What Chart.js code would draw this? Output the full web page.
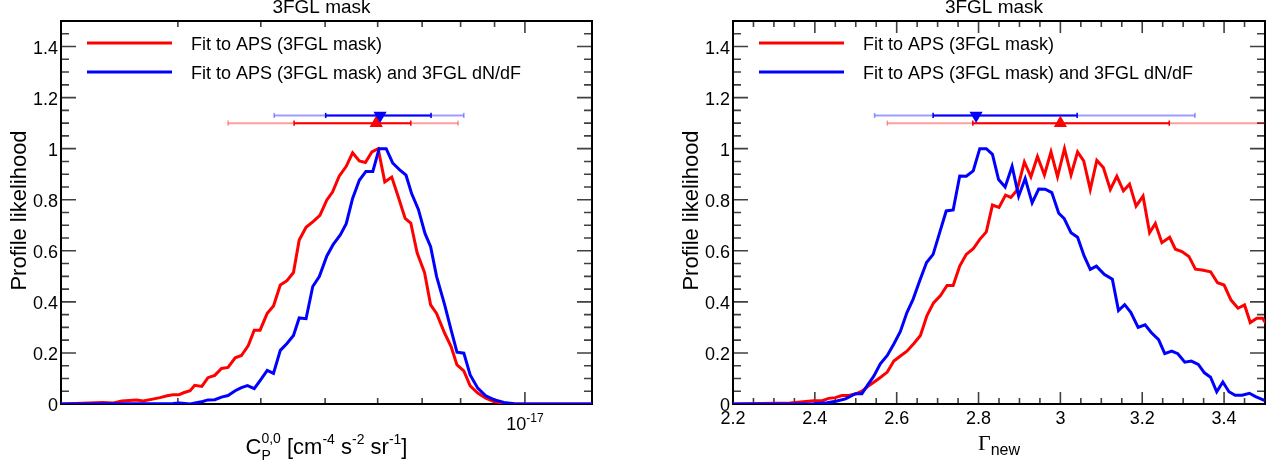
<!DOCTYPE html>
<html>
<head>
<meta charset="utf-8">
<script src="https://cdn.jsdelivr.net/npm/chart.js@4.4.1/dist/chart.umd.min.js"></script>
<style>
  body { margin: 0; background: #fff; }
  #wrap { position: relative; width: 1279px; height: 466px; overflow: hidden; }
  canvas { position: absolute; top: 0; }
</style>
</head>
<body>
<div id="wrap">
  <canvas id="left" width="640" height="466" style="left:0"></canvas>
  <canvas id="right" width="639" height="466" style="left:640px"></canvas>
</div>
<script>
// ---- left panel: C_P^{0,0}, x given in units of 1e-18 cm^-4 s^-2 sr^-1
const cpRedX = [2.00, 2.31, 2.40, 2.47, 2.60, 2.66, 2.76, 2.82, 2.89, 2.95, 3.01, 3.06, 3.13, 3.18, 3.26,
  3.33, 3.41, 3.49, 3.57, 3.66, 3.74, 3.83, 3.91, 3.99, 4.09, 4.18, 4.28, 4.38, 4.48, 4.57, 4.68, 4.80,
  4.91, 5.03, 5.13, 5.25, 5.38, 5.50, 5.63, 5.75, 5.88, 6.01, 6.15, 6.30, 6.44, 6.60, 6.73, 6.88, 7.06,
  7.21, 7.36, 7.57, 7.74, 7.90, 8.09, 8.27, 8.49, 8.73, 8.98, 9.30, 9.64, 12.62];
const cpRedY = [0, 0.006, 0.004, 0.012, 0.016, 0.012, 0.02, 0.025, 0.032, 0.036, 0.036, 0.044, 0.052, 0.073, 0.069,
  0.103, 0.112, 0.139, 0.143, 0.181, 0.19, 0.229, 0.289, 0.289, 0.355, 0.384, 0.466, 0.483, 0.515, 0.642, 0.692, 0.715,
  0.739, 0.799, 0.83, 0.892, 0.931, 0.984, 0.952, 0.946, 0.987, 1.0, 0.87, 0.889, 0.814, 0.727, 0.709, 0.592, 0.514,
  0.388, 0.355, 0.277, 0.225, 0.153, 0.13, 0.071, 0.043, 0.023, 0.01, 0.001, 0, 0];
const cpBlueX = [2.00, 2.95, 3.02, 3.13, 3.27, 3.33, 3.41, 3.49, 3.57, 3.66, 3.74, 3.82, 3.91, 3.99, 4.09,
  4.18, 4.28, 4.38, 4.48, 4.57, 4.68, 4.79, 4.90, 5.03, 5.14, 5.27, 5.38, 5.50, 5.63, 5.76, 5.90, 6.03,
  6.18, 6.32, 6.47, 6.62, 6.75, 6.91, 7.07, 7.21, 7.36, 7.57, 7.74, 7.90, 8.09, 8.27, 8.49, 8.73, 8.98,
  9.30, 9.64, 10.5, 12.62];
const cpBlueY = [0, 0.002, 0.004, 0, 0.01, 0.016, 0.017, 0.027, 0.033, 0.052, 0.064, 0.072, 0.06, 0.092, 0.132,
  0.12, 0.21, 0.237, 0.268, 0.337, 0.334, 0.46, 0.499, 0.58, 0.624, 0.662, 0.706, 0.805, 0.876, 0.911, 0.911, 1.0,
  1.0, 0.944, 0.918, 0.896, 0.824, 0.762, 0.668, 0.616, 0.5, 0.388, 0.29, 0.203, 0.199, 0.114, 0.062, 0.032, 0.017,
  0.006, 0.001, 0, 0];
// best fit and 68% / 95% intervals (1e-18 units)
const cpRedBest = 5.97, cpRedInner = [4.49, 6.73], cpRedOuter = [3.57, 7.93];
const cpBlueBest = 6.05, cpBlueInner = [5.01, 7.22], cpBlueOuter = [4.19, 8.09];

// ---- right panel: Gamma_new
const gRedX = [2.20, 2.34, 2.397, 2.418, 2.434, 2.45, 2.466, 2.483, 2.499, 2.515, 2.528, 2.544, 2.56, 2.577, 2.593,
  2.609, 2.625, 2.642, 2.658, 2.674, 2.69, 2.707, 2.723, 2.738, 2.754, 2.77, 2.787, 2.803, 2.819, 2.834, 2.85,
  2.866, 2.879, 2.894, 2.912, 2.928, 2.944, 2.961, 2.977, 2.993, 3.01, 3.026, 3.042, 3.057, 3.073, 3.089, 3.105,
  3.122, 3.138, 3.154, 3.169, 3.185, 3.202, 3.218, 3.232, 3.248, 3.267, 3.281, 3.297, 3.314, 3.33, 3.346, 3.367,
  3.384, 3.4, 3.417, 3.434, 3.45, 3.464, 3.48, 3.494, 3.502];
const gRedY = [0, 0.004, 0.013, 0.013, 0.022, 0.025, 0.033, 0.033, 0.039, 0.05, 0.067, 0.085, 0.104, 0.125, 0.168,
  0.188, 0.207, 0.237, 0.268, 0.346, 0.396, 0.425, 0.464, 0.464, 0.54, 0.586, 0.608, 0.645, 0.674, 0.779, 0.77,
  0.818, 0.809, 0.837, 0.948, 0.89, 0.969, 0.897, 0.987, 0.89, 1.0, 0.897, 0.987, 0.952, 0.84, 0.954, 0.926,
  0.84, 0.892, 0.835, 0.861, 0.775, 0.814, 0.671, 0.707, 0.632, 0.653, 0.606, 0.597, 0.578, 0.528, 0.525, 0.518,
  0.475, 0.466, 0.407, 0.375, 0.388, 0.319, 0.336, 0.336, 0.316];
const gBlueX = [2.20, 2.397, 2.43, 2.454, 2.475, 2.499, 2.515, 2.528, 2.544, 2.56, 2.577, 2.593, 2.609, 2.625, 2.64,
  2.656, 2.673, 2.689, 2.705, 2.721, 2.738, 2.754, 2.77, 2.787, 2.803, 2.819, 2.834, 2.849, 2.865, 2.882, 2.898,
  2.914, 2.931, 2.947, 2.963, 2.979, 2.996, 3.009, 3.026, 3.042, 3.058, 3.073, 3.088, 3.107, 3.127, 3.142, 3.157,
  3.172, 3.19, 3.207, 3.222, 3.24, 3.255, 3.272, 3.287, 3.304, 3.32, 3.337, 3.352, 3.367, 3.382, 3.397, 3.412,
  3.427, 3.444, 3.462, 3.477, 3.502];
const gBlueY = [0, 0.001, 0.005, 0.012, 0.02, 0.04, 0.04, 0.072, 0.109, 0.157, 0.19, 0.235, 0.284, 0.358, 0.41,
  0.482, 0.554, 0.586, 0.671, 0.756, 0.76, 0.893, 0.892, 0.913, 1.0, 1.0, 0.978, 0.879, 0.85, 0.931, 0.814,
  0.883, 0.788, 0.842, 0.841, 0.828, 0.747, 0.727, 0.671, 0.653, 0.58, 0.527, 0.54, 0.508, 0.489, 0.366, 0.389,
  0.359, 0.3, 0.31, 0.28, 0.252, 0.197, 0.207, 0.197, 0.164, 0.168, 0.155, 0.122, 0.105, 0.048, 0.086, 0.048,
  0.034, 0.034, 0.042, 0.029, 0.012];
const gRedBest = 3.0, gRedInner = [2.786, 3.266], gRedOuter = [2.577, 3.6];
const gBlueBest = 2.794, gBlueInner = [2.689, 3.041], gBlueOuter = [2.546, 3.329];

// ---- axes / labels
const yTickValues = [0, 0.2, 0.4, 0.6, 0.8, 1, 1.2, 1.4];
const yTickLabels = ['0', '0.2', '0.4', '0.6', '0.8', '1', '1.2', '1.4'];
const gTickValues = [2.2, 2.4, 2.6, 2.8, 3.0, 3.2, 3.4];
const gTickLabels = ['2.2', '2.4', '2.6', '2.8', '3', '3.2', '3.4'];
const cpMinorTicks = [3e-18, 4e-18, 5e-18, 6e-18, 7e-18, 8e-18, 9e-18];
const cpMajorTicks = [1e-17];
const legendLabels = ['Fit to APS (3FGL mask)', 'Fit to APS (3FGL mask) and 3FGL dN/dF'];
const panelTitle = '3FGL mask';

const RED = '#ff0000', BLUE = '#0000ff';
const LRED = 'rgba(255,0,0,0.38)', LBLUE = 'rgba(0,0,255,0.38)';
const SANS = '"Liberation Sans", Arial, Helvetica, sans-serif';
const SERIF = '"Liberation Serif", "Times New Roman", serif';

function pts(xs, ys, k) {
  return xs.map((x, i) => ({ x: x * k, y: ys[i] }));
}

function partWidth(ctx, p) {
  if (p.stack) return Math.max(...p.stack.map(q => partWidth(ctx, q)));
  ctx.font = p.size + 'px ' + (p.family || SANS);
  return ctx.measureText(p.t).width;
}

function drawRich(ctx, parts, cx, base) {
  const w = parts.reduce((s, p) => s + partWidth(ctx, p), 0);
  let x = cx - w / 2;
  ctx.textAlign = 'left';
  ctx.textBaseline = 'alphabetic';
  for (const p of parts) {
    for (const q of (p.stack || [p])) {
      ctx.font = q.size + 'px ' + (q.family || SANS);
      ctx.fillText(q.t, x, base + (q.dy || 0));
    }
    x += partWidth(ctx, p);
  }
}

function rootFrame(cfg) {
  return {
    id: 'rootFrame',
    beforeDatasetsDraw(chart) {
      const { ctx, chartArea: a, scales: { x, y } } = chart;
      ctx.save();
      ctx.strokeStyle = '#404040';
      ctx.lineWidth = 1.6;
      ctx.beginPath();
      for (let i = 0; i <= 30; i++) {
        const py = y.getPixelForValue(i * 0.05);
        const len = i % 4 === 0 ? 15 : 8;
        ctx.moveTo(a.left, py); ctx.lineTo(a.left + len, py);
        ctx.moveTo(a.right, py); ctx.lineTo(a.right - len, py);
      }
      for (const t of cfg.xTicks) {
        const px = x.getPixelForValue(t.v);
        const len = t.major ? 12 : 6;
        ctx.moveTo(px, a.bottom); ctx.lineTo(px, a.bottom - len);
        ctx.moveTo(px, a.top); ctx.lineTo(px, a.top + len);
      }
      ctx.stroke();
      ctx.strokeStyle = '#000';
      ctx.lineWidth = 2;
      ctx.strokeRect(a.left, a.top, a.right - a.left, a.bottom - a.top);
      ctx.restore();
    },
    afterDraw(chart) {
      const { ctx, chartArea: a, scales: { x, y } } = chart;
      ctx.save();
      ctx.fillStyle = '#000';
      // title
      ctx.font = '19px ' + SANS;
      ctx.textAlign = 'center';
      ctx.textBaseline = 'alphabetic';
      ctx.fillText(panelTitle, (a.left + a.right) / 2 - 5, 13);
      // y tick labels
      ctx.font = '18px ' + SANS;
      ctx.textAlign = 'right';
      yTickValues.forEach((v, i) => {
        ctx.fillText(yTickLabels[i], a.left - 3, y.getPixelForValue(v) + 7);
      });
      // y title
      ctx.save();
      ctx.translate(a.left - 35.5, 210.5);
      ctx.rotate(-Math.PI / 2);
      ctx.font = '22px ' + SANS;
      ctx.textAlign = 'center';
      ctx.fillText('Profile likelihood', 0, 0);
      ctx.restore();
      // x tick labels
      for (const l of cfg.xLabels) {
        drawRich(ctx, l.parts, x.getPixelForValue(l.v), cfg.xLabelBase);
      }
      // x title
      drawRich(ctx, cfg.xTitle, (a.left + a.right) / 2 + cfg.xTitleShift, cfg.xTitleBase);
      // legend
      const colors = [RED, BLUE];
      [22, 51].forEach((dy, i) => {
        const ly = a.top + dy;
        ctx.strokeStyle = colors[i];
        ctx.lineWidth = 3.2;
        ctx.beginPath();
        ctx.moveTo(a.left + 26, ly);
        ctx.lineTo(a.left + 111, ly);
        ctx.stroke();
        ctx.font = '18px ' + SANS;
        ctx.textAlign = 'left';
        ctx.fillStyle = '#000';
        ctx.fillText(legendLabels[i], a.left + 130, ly + 7);
      });
      ctx.restore();
    }
  };
}

function bar(lo, hi, yv, color, k) {
  return {
    data: [{ x: lo * k, y: yv }, { x: hi * k, y: yv }],
    borderColor: color, borderWidth: 2,
    pointStyle: 'line', pointRotation: 90, pointRadius: 2.6,
    pointBorderColor: color, pointBorderWidth: 1.6,
    clip: 0
  };
}

function marker(best, yv, color, rot, k) {
  return {
    data: [{ x: best * k, y: yv }],
    showLine: false,
    pointStyle: 'triangle', pointRotation: rot, pointRadius: 7.6,
    pointBackgroundColor: color, pointBorderColor: color, pointBorderWidth: 0
  };
}

function curve(xs, ys, color, k) {
  return {
    data: pts(xs, ys, k),
    borderColor: color, borderWidth: 3, pointRadius: 0, tension: 0
  };
}

function makeChart(id, datasets, xScale, pad, yWidth, cfg) {
  return new Chart(document.getElementById(id), {
    type: 'line',
    data: { datasets },
    options: {
      responsive: false,
      animation: false,
      events: [],
      layout: { autoPadding: false, padding: pad },
      plugins: { legend: { display: false }, tooltip: { enabled: false } },
      scales: {
        x: Object.assign({
          grid: { display: false }, border: { display: false }, ticks: { display: false },
          afterFit(s) { s.height = 62; }
        }, xScale),
        y: {
          type: 'linear', min: 0, max: 1.5,
          grid: { display: false }, border: { display: false }, ticks: { display: false },
          afterFit(s) { s.width = yWidth; }
        }
      }
    },
    plugins: [rootFrame(cfg)]
  });
}

// left chart
const E18 = 1e-18;
makeChart('left', [
  marker(cpBlueBest, 1.13, BLUE, 180, E18),
  marker(cpRedBest, 1.1, RED, 0, E18),
  bar(cpBlueInner[0], cpBlueInner[1], 1.13, BLUE, E18),
  bar(cpRedInner[0], cpRedInner[1], 1.1, RED, E18),
  bar(cpBlueOuter[0], cpBlueOuter[1], 1.13, LBLUE, E18),
  bar(cpRedOuter[0], cpRedOuter[1], 1.1, LRED, E18),
  curve(cpBlueX, cpBlueY, BLUE, E18),
  curve(cpRedX, cpRedY, RED, E18)
], { type: 'logarithmic', min: 2e-18, max: 1.262e-17 },
{ left: 0, right: 48, top: 21, bottom: 0 }, 61, {
  xTicks: cpMinorTicks.map(v => ({ v, major: false })).concat(cpMajorTicks.map(v => ({ v, major: true }))),
  xLabels: [{ v: 1e-17, parts: [{ t: '10', size: 18 }, { t: '-17', size: 12, dy: -8 }] }],
  xLabelBase: 430,
  xTitle: [
    { t: 'C', size: 22 },
    { stack: [{ t: '0,0', size: 14, dy: -11 }, { t: 'P', size: 14, dy: 6 }] },
    { t: ' [cm', size: 22 }, { t: '-4', size: 14, dy: -10 },
    { t: ' s', size: 22 }, { t: '-2', size: 14, dy: -10 },
    { t: ' sr', size: 22 }, { t: '-1', size: 14, dy: -10 },
    { t: ']', size: 22 }
  ],
  xTitleShift: 0,
  xTitleBase: 454
});

// right chart
const gTicks = [];
for (let i = 0; i <= 26; i++) gTicks.push({ v: 2.2 + i * 0.05, major: i % 4 === 0 });
makeChart('right', [
  marker(gBlueBest, 1.13, BLUE, 180, 1),
  marker(gRedBest, 1.1, RED, 0, 1),
  bar(gBlueInner[0], gBlueInner[1], 1.13, BLUE, 1),
  bar(gRedInner[0], gRedInner[1], 1.1, RED, 1),
  bar(gBlueOuter[0], gBlueOuter[1], 1.13, LBLUE, 1),
  bar(gRedOuter[0], gRedOuter[1], 1.1, LRED, 1),
  curve(gBlueX, gBlueY, BLUE, 1),
  curve(gRedX, gRedY, RED, 1)
], { type: 'linear', min: 2.2, max: 3.5 },
{ left: 0, right: 14, top: 21, bottom: 0 }, 93, {
  xTicks: gTicks,
  xLabels: gTickValues.map((v, i) => ({ v, parts: [{ t: gTickLabels[i], size: 18 }] })),
  xLabelBase: 423.5,
  xTitle: [{ t: '\u0393', size: 22, family: SERIF }, { t: 'new', size: 16, dy: 5 }],
  xTitleShift: 0,
  xTitleBase: 450
});
</script>
</body>
</html>
